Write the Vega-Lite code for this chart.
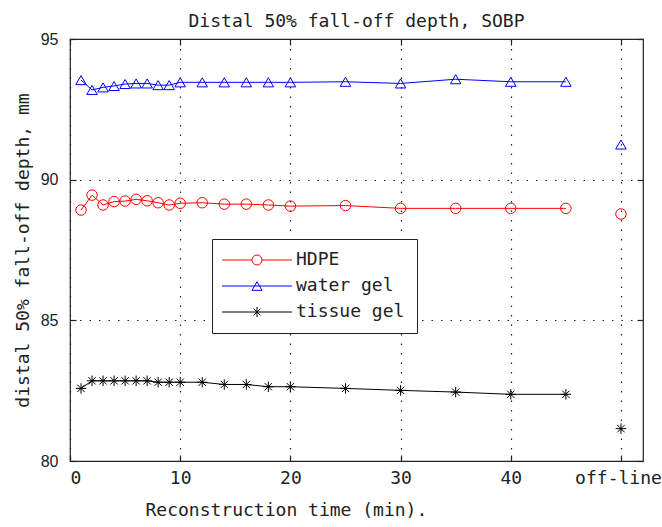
{
  "$schema": "https://vega.github.io/schema/vega-lite/v6.json",
  "width": 573,
  "height": 422,
  "autosize": {"type": "none"},
  "padding": {"left": 70, "top": 39, "right": 19, "bottom": 66},
  "background": "white",
  "title": {"text": "Distal 50% fall-off depth, SOBP", "font": "DejaVu Sans Mono", "fontSize": 18, "fontWeight": "normal", "color": "#222", "offset": 0},
  "data": {"values": [
    {"material": "HDPE", "time": 1, "depth": 88.92},
    {"material": "HDPE", "time": 2, "depth": 89.45},
    {"material": "HDPE", "time": 3, "depth": 89.10},
    {"material": "HDPE", "time": 4, "depth": 89.22},
    {"material": "HDPE", "time": 5, "depth": 89.24},
    {"material": "HDPE", "time": 6, "depth": 89.30},
    {"material": "HDPE", "time": 7, "depth": 89.25},
    {"material": "HDPE", "time": 8, "depth": 89.18},
    {"material": "HDPE", "time": 9, "depth": 89.10},
    {"material": "HDPE", "time": 10, "depth": 89.16},
    {"material": "HDPE", "time": 12, "depth": 89.18},
    {"material": "HDPE", "time": 14, "depth": 89.13},
    {"material": "HDPE", "time": 16, "depth": 89.13},
    {"material": "HDPE", "time": 18, "depth": 89.10},
    {"material": "HDPE", "time": 20, "depth": 89.06},
    {"material": "HDPE", "time": 25, "depth": 89.08},
    {"material": "HDPE", "time": 30, "depth": 88.98},
    {"material": "HDPE", "time": 35, "depth": 88.98},
    {"material": "HDPE", "time": 40, "depth": 88.98},
    {"material": "HDPE", "time": 45, "depth": 88.98},
    {"material": "HDPE", "time": 50, "depth": 88.78},
    {"material": "water gel", "time": 1, "depth": 93.54},
    {"material": "water gel", "time": 2, "depth": 93.19},
    {"material": "water gel", "time": 3, "depth": 93.28},
    {"material": "water gel", "time": 4, "depth": 93.33},
    {"material": "water gel", "time": 5, "depth": 93.40},
    {"material": "water gel", "time": 6, "depth": 93.42},
    {"material": "water gel", "time": 7, "depth": 93.42},
    {"material": "water gel", "time": 8, "depth": 93.36},
    {"material": "water gel", "time": 9, "depth": 93.36},
    {"material": "water gel", "time": 10, "depth": 93.46},
    {"material": "water gel", "time": 12, "depth": 93.46},
    {"material": "water gel", "time": 14, "depth": 93.46},
    {"material": "water gel", "time": 16, "depth": 93.46},
    {"material": "water gel", "time": 18, "depth": 93.46},
    {"material": "water gel", "time": 20, "depth": 93.46},
    {"material": "water gel", "time": 25, "depth": 93.48},
    {"material": "water gel", "time": 30, "depth": 93.42},
    {"material": "water gel", "time": 35, "depth": 93.57},
    {"material": "water gel", "time": 40, "depth": 93.48},
    {"material": "water gel", "time": 45, "depth": 93.48},
    {"material": "water gel", "time": 50, "depth": 91.25},
    {"material": "tissue gel", "time": 1, "depth": 82.58},
    {"material": "tissue gel", "time": 2, "depth": 82.85},
    {"material": "tissue gel", "time": 3, "depth": 82.85},
    {"material": "tissue gel", "time": 4, "depth": 82.85},
    {"material": "tissue gel", "time": 5, "depth": 82.85},
    {"material": "tissue gel", "time": 6, "depth": 82.85},
    {"material": "tissue gel", "time": 7, "depth": 82.85},
    {"material": "tissue gel", "time": 8, "depth": 82.80},
    {"material": "tissue gel", "time": 9, "depth": 82.80},
    {"material": "tissue gel", "time": 10, "depth": 82.80},
    {"material": "tissue gel", "time": 12, "depth": 82.80},
    {"material": "tissue gel", "time": 14, "depth": 82.72},
    {"material": "tissue gel", "time": 16, "depth": 82.72},
    {"material": "tissue gel", "time": 18, "depth": 82.64},
    {"material": "tissue gel", "time": 20, "depth": 82.64},
    {"material": "tissue gel", "time": 25, "depth": 82.58},
    {"material": "tissue gel", "time": 30, "depth": 82.51},
    {"material": "tissue gel", "time": 35, "depth": 82.45},
    {"material": "tissue gel", "time": 40, "depth": 82.37},
    {"material": "tissue gel", "time": 45, "depth": 82.37},
    {"material": "tissue gel", "time": 50, "depth": 81.15}
  ]},
  "resolve": {"axis": {"x": "independent", "y": "independent"}},
  "layer": [
    {
      "encoding": {
        "x": {"field": "time", "type": "quantitative", "scale": {"domain": [0, 52], "nice": false, "zero": false},
          "axis": {"title": "Reconstruction time (min).", "values": [0, 10, 20, 30, 40, 50], "labelExpr": "datum.value == 50 ? 'off-line' : datum.label", "labelOffset": {"condition": {"test": "datum.value == 50", "value": -3}, "value": 0}, "titleX": 75, "titleAlign": "left", "titleAnchor": "start", "labelPadding": 14, "titlePadding": 14}},
        "y": {"field": "depth", "type": "quantitative", "scale": {"domain": [80, 95], "nice": false, "zero": false},
          "axis": {"title": "distal 50% fall-off depth, mm", "values": [80, 85, 90, 95], "labelFont": "Liberation Sans", "labelFontSize": 16, "labelPadding": 18, "titlePadding": 8}},
        "color": {"field": "material", "type": "nominal", "scale": {"domain": ["HDPE", "water gel", "tissue gel"], "range": ["#ff0000", "#0000ff", "#000000"]},
          "legend": {"title": null, "orient": "none", "legendX": 142, "legendY": 200,
            "encode": {"symbols": {"update": {
              "shape": {"signal": "datum.value === 'HDPE' ? 'M-7,0L-1,0M1,0L7,0M-1,0A1,1,0,1,0,1,0A1,1,0,1,0,-1,0' : datum.value === 'water gel' ? 'M-7,0L7,0M0,-0.866L-1,0.866L1,0.866Z' : 'M-7,0L7,0M0,-1L0,1M-0.7,-0.7L0.7,0.7M-0.7,0.7L0.7,-0.7'"},
              "fill": {"value": "transparent"},
              "strokeWidth": {"value": 1},
              "size": {"value": 100}
            }}}}}
      },
      "layer": [
        {"mark": {"type": "line", "strokeWidth": 1}, "transform": [{"filter": "datum.time < 50"}]},
        {"mark": {"type": "point", "filled": false, "size": 110, "strokeWidth": 1, "opacity": 1, "shape": "circle"}, "transform": [{"filter": "datum.material === 'HDPE'"}]},
        {"mark": {"type": "point", "filled": false, "size": 110, "strokeWidth": 1, "opacity": 1, "shape": "triangle-up"}, "transform": [{"filter": "datum.material === 'water gel'"}]},
        {"mark": {"type": "point", "filled": false, "size": 110, "strokeWidth": 1, "opacity": 1, "shape": "M0,-1L0,1M-1,0L1,0M-0.7,-0.7L0.7,0.7M-0.7,0.7L0.7,-0.7"}, "transform": [{"filter": "datum.material === 'tissue gel'"}]}
      ]
    },
    {
      "mark": {"type": "point", "opacity": 0},
      "encoding": {
        "x": {"field": "time", "type": "quantitative", "axis": {"orient": "top", "values": [0, 10, 20, 30, 40, 50], "labels": false, "title": null, "grid": false}},
        "y": {"field": "depth", "type": "quantitative", "axis": {"orient": "right", "values": [80, 85, 90, 95], "labels": false, "title": null, "grid": false}}
      }
    }
  ],
  "config": {
    "view": {"stroke": "#222", "strokeWidth": 1.2},
    "axis": {"labelFont": "DejaVu Sans Mono", "titleFont": "DejaVu Sans Mono", "labelFontSize": 18, "titleFontSize": 18, "titleFontWeight": "normal", "labelColor": "#222", "titleColor": "#222", "domain": false, "grid": true, "gridColor": "#222", "gridDash": [1.5, 8], "gridWidth": 1.2, "gridOpacity": 1, "tickColor": "#222", "tickSize": -6, "tickWidth": 1.2},
    "legend": {"labelFont": "DejaVu Sans Mono", "labelFontSize": 18, "labelColor": "#222", "strokeColor": "#222", "fillColor": "white", "padding": 12, "rowPadding": 8, "labelOffset": 30, "symbolOffset": 24}
  }
}
